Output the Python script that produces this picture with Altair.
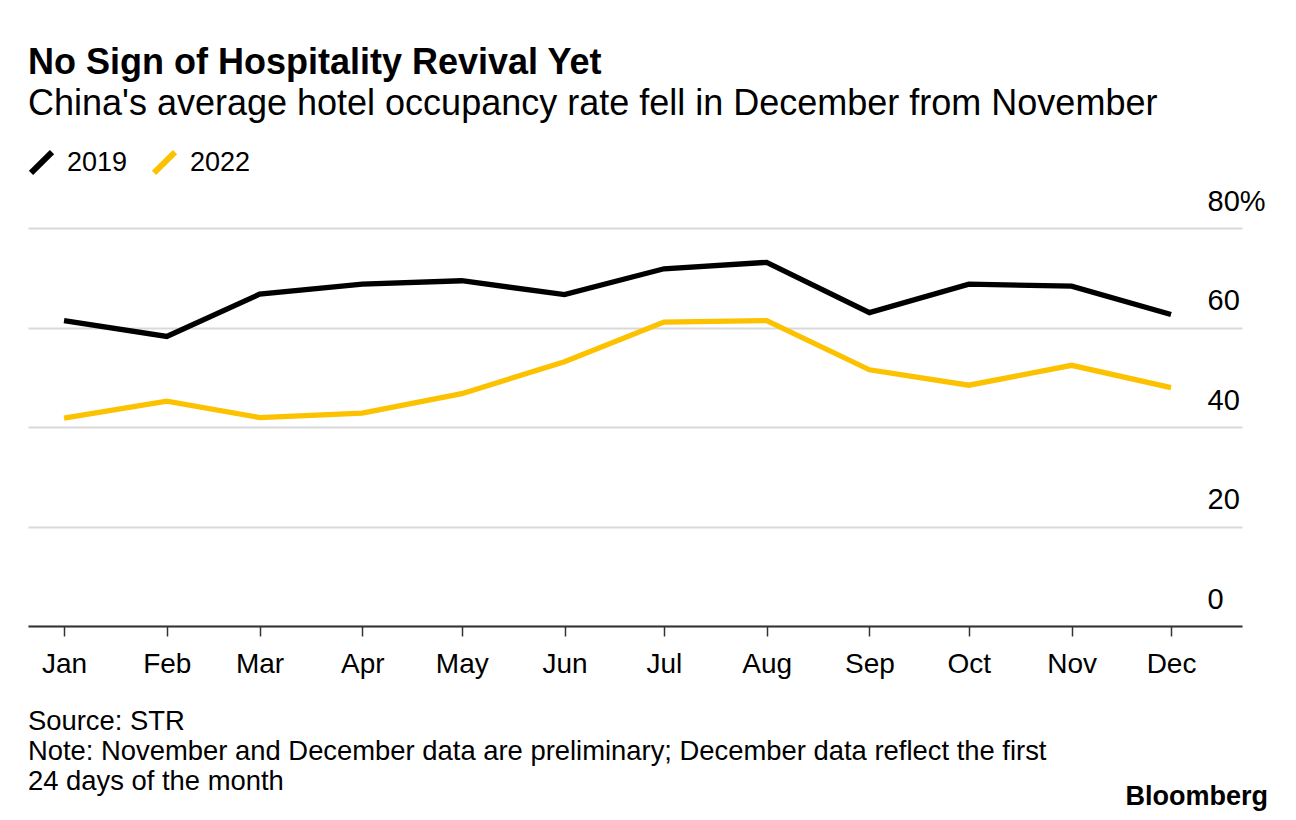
import altair as alt
import pandas as pd

months = ["2022-01-01", "2022-02-01", "2022-03-01", "2022-04-01", "2022-05-01", "2022-06-01",
          "2022-07-01", "2022-08-01", "2022-09-01", "2022-10-01", "2022-11-01", "2022-12-01"]
occ_2019 = [61.4, 58.2, 66.7, 68.7, 69.4, 66.6, 71.8, 73.1, 63.0, 68.7, 68.3, 62.6]
occ_2022 = [41.8, 45.2, 41.9, 42.8, 46.7, 53.1, 61.1, 61.4, 51.5, 48.4, 52.4, 47.9]
series = ["2019", "2022"]
colors = ["#000000", "#fcc200"]
y_ticks = [0, 20, 40, 60, 80]

title = "No Sign of Hospitality Revival Yet"
subtitle = "China's average hotel occupancy rate fell in December from November"
source = "Source: STR"
note1 = "Note: November and December data are preliminary; December data reflect the first"
note2 = "24 days of the month"
brand = "Bloomberg"

FONT = "Liberation Sans"

rows = []
for m, a, b in zip(months, occ_2019, occ_2022):
    rows.append({"date": m, "series": "2019", "value": a})
    rows.append({"date": m, "series": "2022", "value": b})
df = pd.DataFrame(rows)

tick_vals = [alt.DateTime(year=2022, month=i, date=1, utc=True) for i in range(1, 13)]

lines = alt.Chart(df).mark_line(strokeWidth=5.3, clip=False).encode(
    x=alt.X("date:T",
            scale=alt.Scale(type="utc",
                            domain=[alt.DateTime(year=2021, month=12, date=21, hours=3, utc=True),
                                    alt.DateTime(year=2022, month=12, date=22, hours=10, utc=True)]),
            axis=alt.Axis(values=tick_vals, labelExpr="utcFormat(datum.value, '%b')",
                          title=None, grid=False, tickSize=10, tickColor="#333333",
                          tickWidth=1.5, domainColor="#333333", domainWidth=2,
                          labelFontSize=28, labelFont=FONT, labelColor="#000000",
                          labelPadding=14, labelFlush=False)),
    y=alt.Y("value:Q",
            scale=alt.Scale(domain=[0, 80], nice=False, zero=True),
            axis=alt.Axis(orient="right", values=y_ticks, title=None, grid=True,
                          gridColor="#d9d9d9", gridWidth=2, domain=False, ticks=False,
                          labelAlign="left", labelBaseline="alphabetic", labelPadding=-35,
                          labelOffset=-18, labelFontSize=29, labelFont=FONT,
                          labelColor="#000000",
                          labelExpr="datum.value == 80 ? '80%' : datum.label")),
    color=alt.Color("series:N", scale=alt.Scale(domain=series, range=colors),
                    legend=alt.Legend(title=None, orient="none", legendX=0, legendY=-79,
                                      direction="horizontal",
                                      symbolType="M-1,1L1,-1", symbolSize=440,
                                      symbolStrokeWidth=6, symbolFillColor="transparent",
                                      labelFontSize=27, labelFont=FONT, labelColor="#000000",
                                      labelOffset=12, columnPadding=14)),
)

def note(text, y, **kw):
    return alt.Chart(pd.DataFrame({"t": [text]})).mark_text(
        align=kw.get("align", "left"), baseline="alphabetic", font=FONT,
        fontSize=kw.get("size", 27.4), fontWeight=kw.get("weight", "normal"),
        color="#000000").encode(text="t:N", x=alt.value(kw.get("x", 0)), y=alt.value(y))

chart = alt.layer(
    lines,
    note(source, 502),
    note(note1, 532),
    note(note2, 562),
    note(brand, 577, x=1240, align="right", weight="bold", size=27),
).properties(
    width=1214, height=398,
    padding={"left": 20, "top": 37, "right": 5, "bottom": 5},
    title=alt.TitleParams(text=title, subtitle=subtitle, anchor="start",
                          font=FONT, fontSize=36, fontWeight="bold", color="#000000",
                          subtitleFont=FONT, subtitleFontSize=36, subtitleColor="#000000",
                          subtitlePadding=5, offset=26),
).configure_view(stroke=None)

chart.save("out.html", embed_options={"renderer": "svg", "actions": False})
